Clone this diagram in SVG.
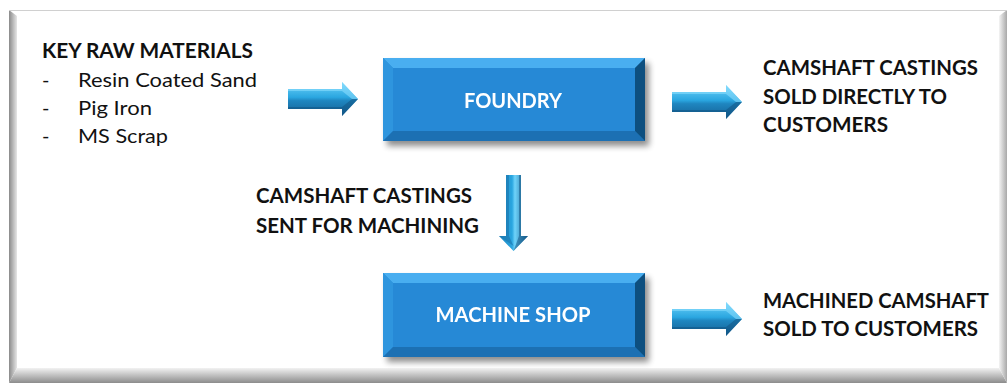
<svg xmlns="http://www.w3.org/2000/svg" width="1008" height="385" viewBox="0 0 1008 385">
  <defs>
    <style>
      .lbl { font-family: Lato, "Open Sans", "Liberation Sans", sans-serif; font-weight: bold; font-size: 20px; fill: #111; }
      .item { font-family: Lato, "Open Sans", "Liberation Sans", sans-serif; font-size: 20px; fill: #111; }
      .node-txt { font-family: Lato, "Open Sans", "Liberation Sans", sans-serif; font-weight: bold; font-size: 20px; fill: #fff; text-anchor: middle; }
      .face { fill: #2689d6; }
      .bev-top { fill: #4aaef0; }
      .bev-left { fill: #2e95de; }
      .bev-bottom { fill: #1a70b3; }
      .bev-right { fill: #10507f; }
    </style>
    <filter id="shadow" x="-10%" y="-20%" width="130%" height="150%">
      <feGaussianBlur in="SourceAlpha" stdDeviation="3"/>
      <feOffset dx="4" dy="5" result="b"/>
      <feComponentTransfer><feFuncA type="linear" slope="0.45"/></feComponentTransfer>
      <feMerge><feMergeNode/><feMergeNode in="SourceGraphic"/></feMerge>
    </filter>
    <linearGradient id="arrH" x1="0" y1="0" x2="0" y2="1">
      <stop offset="0" stop-color="#6fd3fa"/>
      <stop offset="0.45" stop-color="#2aa6e0"/>
      <stop offset="0.55" stop-color="#1f86c0"/>
      <stop offset="1" stop-color="#145f92"/>
    </linearGradient>
    <linearGradient id="arrV" x1="0" y1="0" x2="1" y2="0">
      <stop offset="0" stop-color="#1f86c0"/>
      <stop offset="0.45" stop-color="#2aa6e0"/>
      <stop offset="0.55" stop-color="#6fd3fa"/>
      <stop offset="1" stop-color="#145f92"/>
    </linearGradient>
    <linearGradient id="edgeL" x1="0" y1="0" x2="1" y2="0">
      <stop offset="0" stop-color="#8a8a8a"/>
      <stop offset="1" stop-color="#e6e6e6"/>
    </linearGradient>
    <linearGradient id="edgeB" x1="0" y1="0" x2="0" y2="1">
      <stop offset="0" stop-color="#f2f2f2"/>
      <stop offset="1" stop-color="#8c8c8c"/>
    </linearGradient>
    <linearGradient id="edgeR" x1="0" y1="0" x2="1" y2="0">
      <stop offset="0" stop-color="#f4f4f4"/>
      <stop offset="1" stop-color="#a8a8a8"/>
    </linearGradient>
    <!-- horizontal block arrow, 70 x 34, pointing right -->
    <g id="arrowRight">
      <polygon points="0,7 54,7 54,0 70,17 54,34 54,27 0,27" fill="url(#arrH)"/>
      <polygon points="0,7 54,7 54,0 70,17 64,17 54,9 0,9" fill="#8fe0ff" opacity="0.55"/>
      <polygon points="0,25 54,25 64,17 70,17 54,34 54,27 0,27" fill="#0f4f7d" opacity="0.5"/>
    </g>
  </defs>

  <!-- outer frame -->
  <g id="frame">
    <rect x="9" y="10" width="998" height="373" fill="#ffffff"/>
    <polygon points="9,10 17,16 17,368 9,383" fill="url(#edgeL)"/>
    <polygon points="9,383 17,368 999,368 1007,383" fill="url(#edgeB)"/>
    <polygon points="999,16 1007,10 1007,383 999,368" fill="url(#edgeR)"/>
    <line x1="9" y1="10.5" x2="1007" y2="10.5" stroke="#d0d0d0" stroke-width="1"/>
  </g>

  <!-- raw materials list -->
  <g id="raw-materials">
    <text class="lbl" x="42" y="58" textLength="211" lengthAdjust="spacingAndGlyphs">KEY RAW MATERIALS</text>
    <text class="item" x="42" y="87">-</text>
    <text class="item" x="78" y="87" textLength="179" lengthAdjust="spacingAndGlyphs">Resin Coated Sand</text>
    <text class="item" x="42" y="115">-</text>
    <text class="item" x="78" y="115" textLength="74" lengthAdjust="spacingAndGlyphs">Pig Iron</text>
    <text class="item" x="42" y="143">-</text>
    <text class="item" x="78" y="143" textLength="90" lengthAdjust="spacingAndGlyphs">MS Scrap</text>
  </g>

  <!-- foundry -->
  <g id="foundry" filter="url(#shadow)">
    <rect class="face" x="383" y="58" width="262" height="83"/>
    <polygon class="bev-top" points="383,58 645,58 635,68 393,68"/>
    <polygon class="bev-left" points="383,58 393,68 393,131 383,141"/>
    <polygon class="bev-bottom" points="383,141 393,131 635,131 645,141"/>
    <polygon class="bev-right" points="645,58 645,141 635,131 635,68"/>
    <text class="node-txt" x="513" y="108" textLength="98" lengthAdjust="spacingAndGlyphs">FOUNDRY</text>
  </g>

  <!-- machine shop -->
  <g id="machine-shop" filter="url(#shadow)">
    <rect class="face" x="383" y="273" width="262" height="84"/>
    <polygon class="bev-top" points="383,273 645,273 635,283 393,283"/>
    <polygon class="bev-left" points="383,273 393,283 393,347 383,357"/>
    <polygon class="bev-bottom" points="383,357 393,347 635,347 645,357"/>
    <polygon class="bev-right" points="645,273 645,357 635,347 635,283"/>
    <text class="node-txt" x="513" y="322" textLength="155" lengthAdjust="spacingAndGlyphs">MACHINE SHOP</text>
  </g>

  <!-- outputs -->
  <g id="castings-sold">
    <text class="lbl" x="763" y="75" textLength="215" lengthAdjust="spacingAndGlyphs">CAMSHAFT CASTINGS</text>
    <text class="lbl" x="763" y="104" textLength="184" lengthAdjust="spacingAndGlyphs">SOLD DIRECTLY TO</text>
    <text class="lbl" x="763" y="132" textLength="125" lengthAdjust="spacingAndGlyphs">CUSTOMERS</text>
  </g>
  <g id="machined-sold">
    <text class="lbl" x="763" y="308" textLength="226" lengthAdjust="spacingAndGlyphs">MACHINED CAMSHAFT</text>
    <text class="lbl" x="763" y="336" textLength="215" lengthAdjust="spacingAndGlyphs">SOLD TO CUSTOMERS</text>
  </g>
  <g id="sent-for-machining">
    <text class="lbl" x="256" y="203" textLength="216" lengthAdjust="spacingAndGlyphs">CAMSHAFT CASTINGS</text>
    <text class="lbl" x="256" y="233" textLength="223" lengthAdjust="spacingAndGlyphs">SENT FOR MACHINING</text>
  </g>

  <!-- connectors -->
  <g id="connectors">
    <use href="#arrowRight" x="288" y="82"/>
    <use href="#arrowRight" x="672" y="85"/>
    <use href="#arrowRight" x="672" y="302"/>
    <g id="arrow-down">
      <polygon points="506,175 521,175 521,236 528,236 513.5,251 499,236 506,236" fill="url(#arrV)"/>
      <polygon points="506,175 509,175 509,236 513.5,246 499,236 506,236" fill="#1a75ad" opacity="0.6"/>
      <polygon points="519,175 521,175 521,236 528,236 513.5,251 519,236" fill="#0f4f7d" opacity="0.5"/>
    </g>
  </g>
</svg>
